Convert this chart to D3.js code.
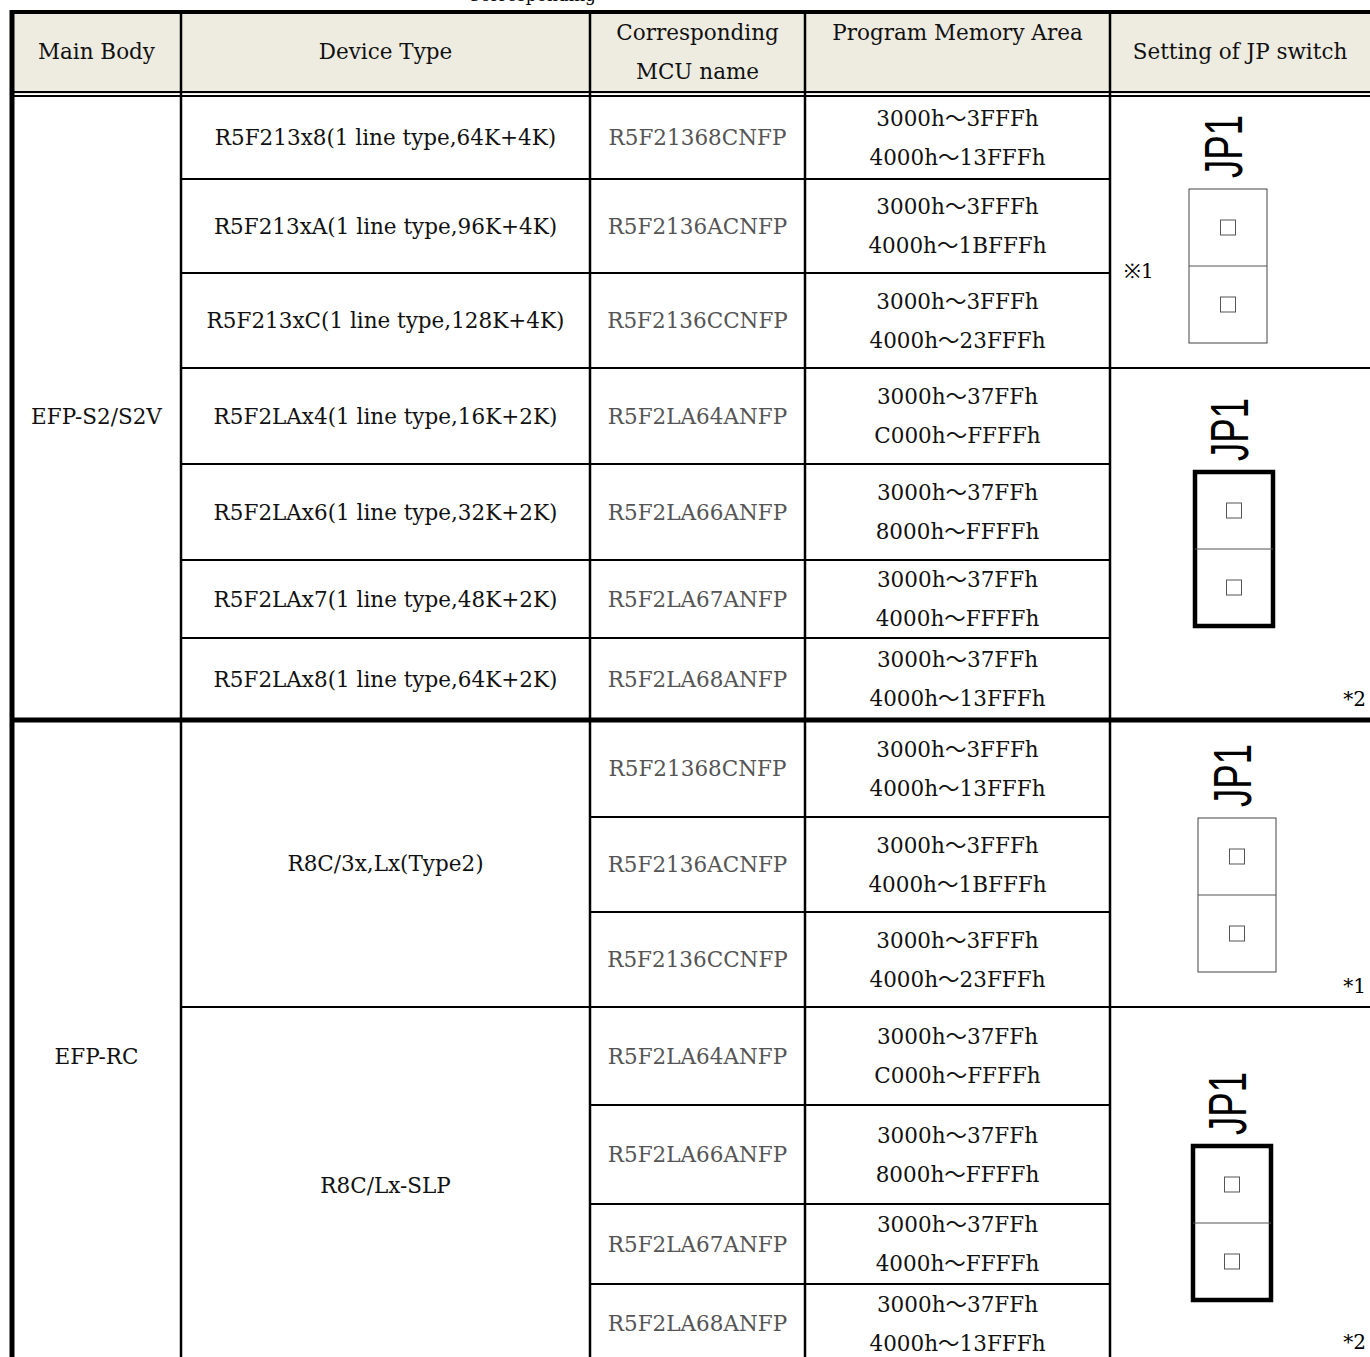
<!DOCTYPE html>
<html>
<head>
<meta charset="utf-8">
<script src="https://cdn.jsdelivr.net/npm/d3@7"></script>
<style>
  body { margin: 0; background: #fff; }
  svg { display: block; }
</style>
</head>
<body>
<div id="chart"></div>
<script>
// table content
var headers = ["Main Body", "Device Type", "Corresponding\nMCU name", "Program Memory Area", "Setting of JP switch"];
var mainBodies = ["EFP-S2/S2V", "EFP-RC"];
var deviceTypes = [
  "R5F213x8(1 line type,64K+4K)", "R5F213xA(1 line type,96K+4K)", "R5F213xC(1 line type,128K+4K)",
  "R5F2LAx4(1 line type,16K+2K)", "R5F2LAx6(1 line type,32K+2K)", "R5F2LAx7(1 line type,48K+2K)",
  "R5F2LAx8(1 line type,64K+2K)",
  "R8C/3x,Lx(Type2)", "R8C/Lx-SLP"
];
var mcuNames = [
  "R5F21368CNFP", "R5F2136ACNFP", "R5F2136CCNFP", "R5F2LA64ANFP", "R5F2LA66ANFP", "R5F2LA67ANFP", "R5F2LA68ANFP",
  "R5F21368CNFP", "R5F2136ACNFP", "R5F2136CCNFP", "R5F2LA64ANFP", "R5F2LA66ANFP", "R5F2LA67ANFP", "R5F2LA68ANFP"
];
var memFirst = [
  "3000h～3FFFh", "3000h～3FFFh", "3000h～3FFFh", "3000h～37FFh", "3000h～37FFh", "3000h～37FFh", "3000h～37FFh",
  "3000h～3FFFh", "3000h～3FFFh", "3000h～3FFFh", "3000h～37FFh", "3000h～37FFh", "3000h～37FFh", "3000h～37FFh"
];
var memSecond = [
  "4000h～13FFFh", "4000h～1BFFFh", "4000h～23FFFh", "C000h～FFFFh", "8000h～FFFFh", "4000h～FFFFh", "4000h～13FFFh",
  "4000h～13FFFh", "4000h～1BFFFh", "4000h～23FFFh", "C000h～FFFFh", "8000h～FFFFh", "4000h～FFFFh", "4000h～13FFFh"
];
// which rows each merged cell spans [index, firstRow, lastRow]
var groupSpans = [[0, 0, 6], [1, 7, 13]];
var deviceSpans = [[0,0,0],[1,1,1],[2,2,2],[3,3,3],[4,4,4],[5,5,5],[6,6,6],[7,7,9],[8,10,13]];
var jpSpans = [[0, 2], [3, 6], [7, 9], [10, 13]];
var jpNotes = ["※1", "*2", "*1", "*2"];
var jpBold = [false, true, false, true];

// layout
var W = 1370, H = 1357;
var colEdges = [12, 181, 590, 805, 1110, 1370];
var headTop = 12, headBottom = 94;
var rowEdges = [96, 179, 273, 368, 464, 560, 638, 720, 817, 912, 1007, 1105, 1204, 1284, 1363];
var jpBoxX = [1189, 1195, 1198, 1193];
var jpBoxTop = [189, 472, 818, 1146];
var serif = "'DejaVu Serif', serif";
var fs = 21.5;

var svg = d3.select("#chart").append("svg")
  .attr("width", W).attr("height", H);

var col = d3.scaleOrdinal().domain(d3.range(5)).range(colEdges.slice(0, 5));
var colW = function(i) { return colEdges[i + 1] - colEdges[i]; };
var bot = function(r) { return rowEdges[r + 1]; };
var mid = function(a, b) { return (rowEdges[a] + rowEdges[b + 1]) / 2; };

// caption above the table (cut off by the page top)
svg.append("text").attr("x", 596).attr("y", 1).attr("text-anchor", "end")
  .attr("font-family", serif).attr("font-size", 17).text("Corresponding");

// header background
svg.append("rect").attr("x", colEdges[0]).attr("y", headTop)
  .attr("width", W - colEdges[0]).attr("height", headBottom - headTop)
  .attr("fill", "#eeece1");

// header texts
headers.forEach(function(h, i) {
  var lines = h.split("\n");
  var cx = col(i) + colW(i) / 2;
  var t = svg.append("text").attr("text-anchor", "middle")
    .attr("font-family", serif).attr("font-size", fs).attr("fill", "#111");
  if (lines.length > 1) {
    lines.forEach(function(l, k) {
      t.append("tspan").attr("x", cx).attr("y", 40 + k * 39).text(l);
    });
  } else {
    t.attr("x", cx).attr("y", i === 3 ? 40 : 59).text(h);
  }
});

// body texts; the wave dash is drawn with a CJK font so it keeps its full width
var bodyText = function(x, y, s, fill) {
  var t = svg.append("text").attr("x", x).attr("y", y).attr("dy", "0.35em")
    .attr("text-anchor", "middle").attr("font-family", serif)
    .attr("font-size", fs).attr("fill", fill || "#111");
  s.split(/(～)/).forEach(function(part) {
    if (!part) return;
    var sp = t.append("tspan").text(part);
    if (part === "～") sp.attr("font-family", "'Noto Sans CJK JP', sans-serif");
  });
};
groupSpans.forEach(function(g) {
  bodyText(col(0) + colW(0) / 2, mid(g[1] + 3, g[1] + 3), mainBodies[g[0]]);
});
deviceSpans.forEach(function(d) {
  bodyText(col(1) + colW(1) / 2, mid(d[1], d[2]), deviceTypes[d[0]]);
});
mcuNames.forEach(function(m, r) {
  var y = mid(r, r);
  bodyText(col(2) + colW(2) / 2, y, m, "#555");
  bodyText(col(3) + colW(3) / 2, y - 19.5, memFirst[r]);
  bodyText(col(3) + colW(3) / 2, y + 19.5, memSecond[r]);
});

// JP switch drawings
jpSpans.forEach(function(s, i) {
  var bx = jpBoxX[i], by = jpBoxTop[i];
  var bw = 78, bh = 154;
  var g = svg.append("g");
  g.append("text")
    .attr("transform", "translate(" + (bx + 53) + "," + (by - 11) + ") rotate(-90)")
    .attr("font-family", "'Liberation Sans', Arial, sans-serif").attr("font-size", 54)
    .attr("textLength", 63).attr("lengthAdjust", "spacingAndGlyphs")
    .text("JP1");
  g.append("rect").attr("x", bx).attr("y", by).attr("width", bw).attr("height", bh)
    .attr("fill", "none").attr("stroke", jpBold[i] ? "#000" : "#444")
    .attr("stroke-width", jpBold[i] ? 4.5 : 1);
  g.append("line").attr("x1", bx).attr("x2", bx + bw)
    .attr("y1", by + bh / 2).attr("y2", by + bh / 2)
    .attr("stroke", "#555").attr("stroke-width", 1);
  [0.25, 0.75].forEach(function(f) {
    g.append("rect").attr("x", bx + bw / 2 - 7.5).attr("y", by + bh * f - 7.5)
      .attr("width", 15).attr("height", 15)
      .attr("fill", "#fff").attr("stroke", "#555").attr("stroke-width", 1);
  });
  if (i === 0) {
    svg.append("text").attr("x", 1124).attr("y", 278)
      .attr("font-family", serif).attr("font-size", 20).text(jpNotes[i]);
  } else {
    svg.append("text").attr("x", 1366).attr("y", bot(s[1]) - 14).attr("text-anchor", "end")
      .attr("font-family", serif).attr("font-size", 20).text(jpNotes[i]);
  }
});

// grid lines
var line = function(x1, y1, x2, y2, w) {
  svg.append("line").attr("x1", x1).attr("y1", y1).attr("x2", x2).attr("y2", y2)
    .attr("stroke", "#000").attr("stroke-width", w);
};
// outer top and left
line(colEdges[0] - 2, headTop, W, headTop, 4);
line(colEdges[0], headTop - 2, colEdges[0], H, 5);
// header double line
line(colEdges[0], headBottom - 2, W, headBottom - 2, 2);
line(colEdges[0], headBottom + 2, W, headBottom + 2, 2);
// vertical column lines
colEdges.slice(1, 5).forEach(function(x) { line(x, headTop, x, H, 2.5); });
// horizontal lines between rows
rowEdges.slice(1, 14).forEach(function(y, k) {
  var r = k + 1;
  if (r === 7) { line(colEdges[0], y, W, y, 5); return; }
  // device type and JP columns only have lines at their merged cell edges
  var devEdge = deviceSpans.some(function(d) { return d[1] === r; });
  var jpEdge = jpSpans.some(function(s) { return s[0] === r; });
  line(devEdge ? colEdges[1] : colEdges[2], y, jpEdge ? W : colEdges[4], y, 2);
});
</script>
</body>
</html>
